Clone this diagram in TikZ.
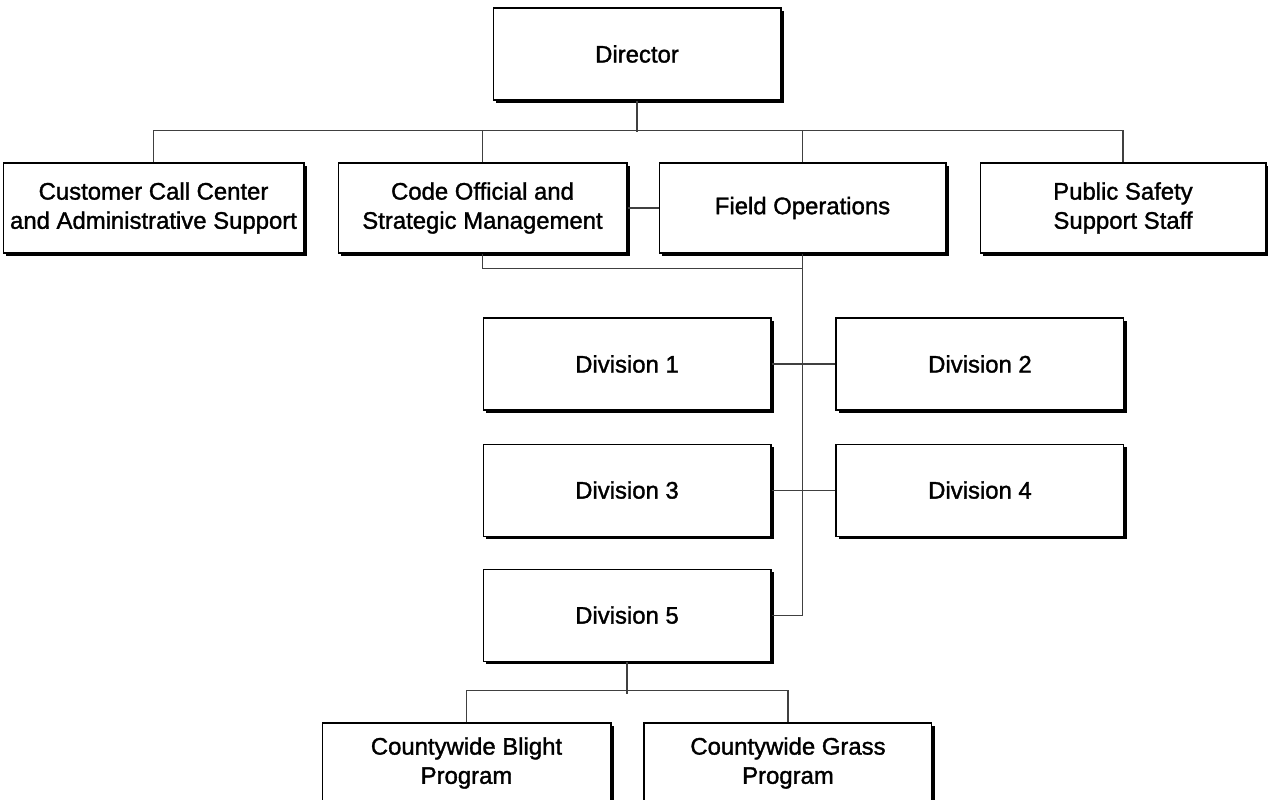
\documentclass[tikz,border=0pt]{standalone}
\usepackage{fontspec}
\setmainfont{Liberation Sans}
\newfontfamily\boxfont{Liberation Sans}[FakeBold=1.4]
\usetikzlibrary{positioning, shadows}

\begin{document}
\begin{tikzpicture}[
    x=0.02cm, y=-0.02cm,
    node distance=0.66cm and 0.64cm,
    every node/.style={font=\boxfont\fontsize{13.6}{16.6}\selectfont},
    box/.style={draw, fill=white, line width=0.6pt, align=center, inner sep=0pt,
      minimum width=5.76cm, minimum height=1.84cm,
      drop shadow={shadow xshift=0.06cm, shadow yshift=-0.06cm, fill=black, opacity=1}},
    row/.style={box, minimum height=1.8cm},
    link/.style={draw=black!75, line width=0.6pt}
  ]
  \useasboundingbox (0,0) rectangle (1268,799);

  % top
  \node[box] (dir) at (637,54) {Director};

  % second row
  \node[row, minimum width=5.74cm] (field) at (802.5,208) {Field Operations};
  \node[row, minimum width=5.78cm, left=0.62cm of field] (code) {Code Official and\\Strategic Management};
  \node[row, minimum width=6.02cm, left=0.66cm of code] (ccc) {Customer Call Center\\and Administrative Support};
  \node[row, minimum width=5.72cm, right=0.66cm of field] (pss) {Public Safety\\Support Staff};

  % divisions
  \node[box] (div1) at (627,364) {Division 1};
  \node[box, right=1.28cm of div1] (div2) {Division 2};
  \node[box, below=of div1] (div3) {Division 3};
  \node[box, right=1.28cm of div3] (div4) {Division 4};
  \node[box, below=0.64cm of div3] (div5) {Division 5};

  % programs
  \node[box, minimum width=5.78cm, minimum height=1.6cm] (blight) at (466.5,763) {Countywide Blight\\Program};
  \node[box, minimum width=5.76cm, minimum height=1.6cm, right=of blight] (grass) {Countywide Grass\\Program};

  % connectors
  \draw[link] (dir.south) -- ++(0,31);
  \draw[link] (ccc.north) -- ++(0,-32) -| (pss.north);
  \draw[link] (code.north) -- ++(0,-32);
  \draw[link] (field.north) -- ++(0,-32);
  \draw[link] (code) -- (field);
  \draw[link] (code.south) -- ++(0,15) -| (field.south);
  \draw[link] (field.south) |- (div5.east);
  \draw[link] (div1) -- (div2);
  \draw[link] (div3) -- (div4);
  \draw[link] (div5.south) -- ++(0,32);
  \draw[link] (blight.north) -- ++(0,-32) -| (grass.north);
\end{tikzpicture}
\end{document}
